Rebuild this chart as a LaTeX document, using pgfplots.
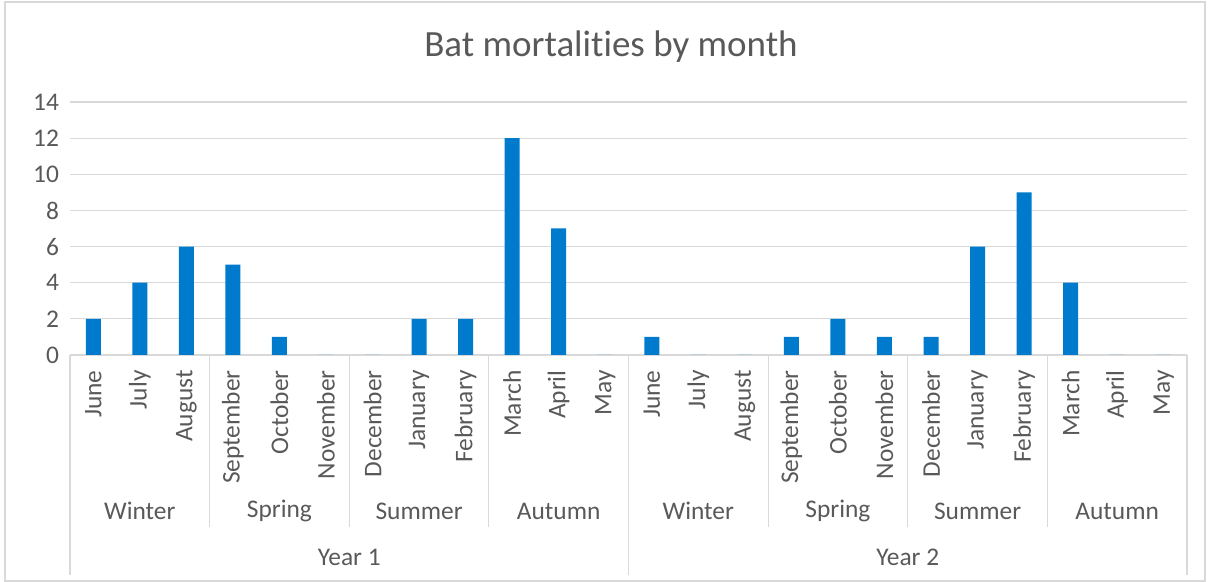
\documentclass[border=0pt]{standalone}
\usepackage{pgfplots}
\pgfplotsset{compat=1.18}
\usepackage{fontspec}
\setmainfont{Carlito}[Ligatures={NoCommon,NoRequired,NoContextual}]
\definecolor{barblue}{RGB}{0,122,204}
\definecolor{txtgrey}{RGB}{89,89,89}
\definecolor{linegrey}{RGB}{217,217,217}

\pgfplotstableread{
idx value
0  2
1  4
2  6
3  5
4  1
5  0
6  0
7  2
8  2
9  12
10 7
11 0
12 1
13 0
14 0
15 1
16 2
17 1
18 1
19 6
20 9
21 4
22 0
23 0
}\mortalities

\begin{document}
\begin{tikzpicture}
% chart frame (1 px = 0.5 pt)
\path[use as bounding box] (0,0) rectangle (604.5pt,291pt);
\draw[linegrey, line width=0.6pt] (2.5pt,0.5pt) rectangle (602.5pt,290pt);
\node[txtgrey, font=\fontsize{18.5}{22}\selectfont] at (305.5pt,267.5pt) {Bat mortalit\kern0pt ies by month};
\begin{axis}[
  at={(35pt,113.5pt)}, anchor=south west,
  scale only axis, width=558.5pt, height=126.5pt,
  xmin=-0.5, xmax=23.5, ymin=0, ymax=14,
  ytick={0,2,...,14},
  xtick={0,...,23},
  xticklabels={June,July,August,September,October,November,December,January,February,March,April,May,
               June,July,August,September,October,November,December,January,February,March,April,May},
  xticklabel style={yshift=-7.5pt, rotate=90, anchor=east, inner sep=0pt, text=txtgrey, font=\fontsize{12.7}{15}\selectfont},
  yticklabel style={text=txtgrey, font=\fontsize{12.7}{15}\selectfont, xshift=-2pt},
  /pgf/number format/assume math mode=true,
  ymajorgrids, major grid style={linegrey, line width=0.6pt},
  axis x line*=bottom, axis y line*=left,
  x axis line style={linegrey, line width=0.6pt, -},
  y axis line style={draw=none},
  major tick length=0pt,
  clip=false,
]
\addplot[ybar, bar width=7.5pt, fill=barblue, draw=none] table[x=idx, y=value] {\mortalities};
% season group separators
\pgfplotsinvokeforeach{2.5,5.5,8.5,14.5,17.5,20.5}{
  \draw[linegrey, line width=0.6pt] (axis cs:#1,0) -- ([yshift=-86pt]axis cs:#1,0);
}
% year group separators and outer edges
\pgfplotsinvokeforeach{-0.5,11.5,23.5}{
  \draw[linegrey, line width=0.6pt] (axis cs:#1,0) -- ([yshift=-110pt]axis cs:#1,0);
}
\tikzset{grouplabel/.style={txtgrey, font=\fontsize{12.7}{15}\selectfont}}
\node[grouplabel] at ([yshift=-78pt]axis cs:1,0) {Winter};
\node[grouplabel] at ([yshift=-78pt]axis cs:4,0) {Spring};
\node[grouplabel] at ([yshift=-78pt]axis cs:7,0) {Summer};
\node[grouplabel] at ([yshift=-78pt]axis cs:10,0) {Autumn};
\node[grouplabel] at ([yshift=-78pt]axis cs:13,0) {Winter};
\node[grouplabel] at ([yshift=-78pt]axis cs:16,0) {Spring};
\node[grouplabel] at ([yshift=-78pt]axis cs:19,0) {Summer};
\node[grouplabel] at ([yshift=-78pt]axis cs:22,0) {Autumn};
\node[grouplabel] at ([yshift=-101pt]axis cs:5.5,0) {Year 1};
\node[grouplabel] at ([yshift=-101pt]axis cs:17.5,0) {Year 2};
\end{axis}
\end{tikzpicture}
\end{document}
